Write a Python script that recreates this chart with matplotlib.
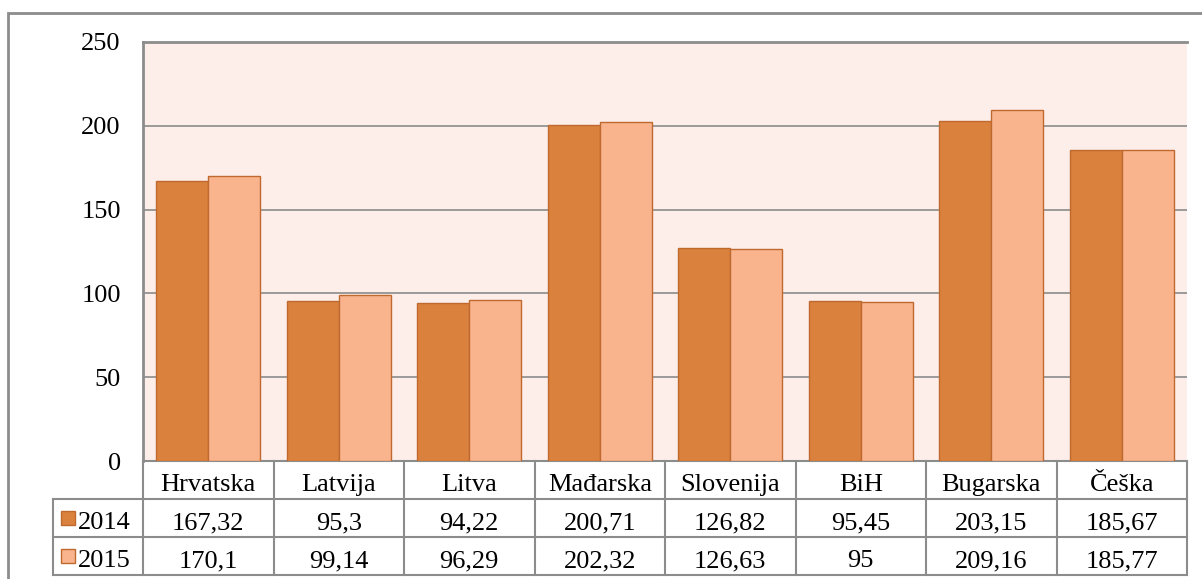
import numpy as np
import matplotlib
matplotlib.use("Agg")
import matplotlib.pyplot as plt
from matplotlib.patches import Rectangle
from matplotlib.lines import Line2D

plt.rcParams['font.family'] = 'Liberation Serif'

countries = ["Hrvatska", "Latvija", "Litva", "Mađarska", "Slovenija", "BiH", "Bugarska", "Češka"]
years = ["2014", "2015"]
v2014 = [167.32, 95.3, 94.22, 200.71, 126.82, 95.45, 203.15, 185.67]
v2015 = [170.1, 99.14, 96.29, 202.32, 126.63, 95, 209.16, 185.77]
labels2014 = ["167,32", "95,3", "94,22", "200,71", "126,82", "95,45", "203,15", "185,67"]
labels2015 = ["170,1", "99,14", "96,29", "202,32", "126,63", "95", "209,16", "185,77"]

c2014 = "#D9813D"
c2015 = "#F9B48E"
edge = "#C0692E"
grid = "#8C8C8C"
fs = 19

W, H = 1202, 579
fig = plt.figure(figsize=(W / 100, H / 100), dpi=100)

# outer chart border
fig.add_artist(Rectangle((8 / W, -0.01), 1.1, 1 - 13 / H + 0.01, transform=fig.transFigure,
                         fill=False, edgecolor=grid, linewidth=2))

x0, x1, ytop, ybot = 143, 1187, 42, 461
ax = fig.add_axes([x0 / W, 1 - ybot / H, (x1 - x0) / W, (ybot - ytop) / H])
ax.set_facecolor("#FDEEEA")

x = np.arange(len(countries))
bw = 0.4
ax.bar(x - bw / 2, v2014, bw, color=c2014, edgecolor=edge, linewidth=1, zorder=3)
ax.bar(x + bw / 2, v2015, bw, color=c2015, edgecolor=edge, linewidth=1, zorder=3)

ax.set_xlim(-0.5, len(countries) - 0.5)
ax.set_ylim(0, 250)
ax.set_yticks(range(0, 251, 50))
ax.set_xticks([])
ax.yaxis.grid(True, color=grid, linewidth=1.2, zorder=0)
ax.tick_params(axis='y', length=0, pad=16, labelsize=fs)
for s in ["right", "bottom"]:
    ax.spines[s].set_visible(False)
for s in ["left", "top"]:
    ax.spines[s].set_color(grid)
    ax.spines[s].set_linewidth(2)

# data table below the plot
ph = ybot - ytop
row_h = 38 / ph
base_off = 8 / ph
tr = ax.transAxes
cell_w = 1 / len(countries)
legend_left = -(x0 - 53) / (x1 - x0)
lc = dict(color=grid, linewidth=1.5, transform=tr, clip_on=False)

# horizontal lines
ax.add_line(Line2D([0, 1], [0, 0], **lc))
for k in range(1, 4):
    ax.add_line(Line2D([legend_left, 1], [-k * row_h, -k * row_h], **lc))
# vertical lines
for i in range(len(countries) + 1):
    ax.add_line(Line2D([i * cell_w, i * cell_w], [0, -3 * row_h], **lc))
ax.add_line(Line2D([legend_left, legend_left], [-row_h, -3 * row_h], **lc))

rows = [countries, labels2014, labels2015]
for r, vals in enumerate(rows):
    yb = -(r + 1) * row_h + base_off
    for i, t in enumerate(vals):
        ax.text((i + 0.5) * cell_w, yb, t, transform=tr, ha='center', va='baseline',
                fontsize=fs, clip_on=False)

for r, (yr, col) in enumerate(zip(years, [c2014, c2015])):
    yc = -(r + 1.5) * row_h
    yb = -(r + 2) * row_h + base_off
    sq = 14 / (x1 - x0)
    sqh = 14 / ph
    ax.add_patch(Rectangle((legend_left + 8 / (x1 - x0), yc - sqh / 2), sq, sqh, transform=tr,
                           facecolor=col, edgecolor=edge, linewidth=1, clip_on=False))
    ax.text(legend_left + 25 / (x1 - x0), yb, yr, transform=tr, ha='left', va='baseline',
            fontsize=fs, clip_on=False)

fig.savefig("out.png", dpi=100)
